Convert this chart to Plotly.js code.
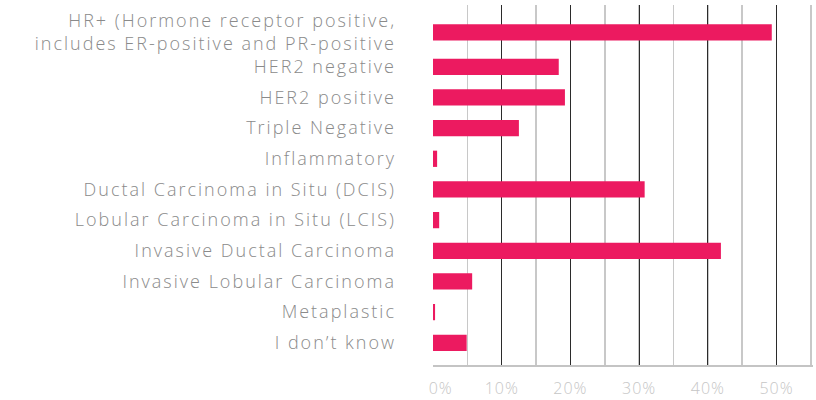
<!DOCTYPE html>
<html>
<head>
<meta charset="utf-8">
<script src="https://cdn.plot.ly/plotly-3.0.1.min.js"></script>
<style>
html,body{margin:0;padding:0;background:#fff;}
#chart{width:816px;height:400px;}
#chart .ytick text{letter-spacing:2px;}
#chart .xtick text{letter-spacing:1px;}
</style>
</head>
<body>
<div id="chart"></div>
<script>
const categories = [
  "HR+ (Hormone receptor positive,<br>includes ER-positive and PR-positive",
  "HER2 negative",
  "HER2 positive",
  "Triple Negative",
  "Inflammatory",
  "Ductal Carcinoma in Situ (DCIS)",
  "Lobular Carcinoma in Situ (LCIS)",
  "Invasive Ductal Carcinoma",
  "Invasive Lobular Carcinoma",
  "Metaplastic",
  "I don\u2019t know"
];
const values = [49.3, 18.3, 19.2, 12.5, 0.6, 30.8, 0.9, 41.9, 5.7, 0.3, 4.9];
const tickValues = [0, 10, 20, 30, 40, 50];
const tickLabels = ["\u00a0\u00a0\u00a00%", "10%", "20%", "30%", "40%", "50%"];

// Row layout: a row whose label wraps onto two lines gets a little extra room
const rowPos = [];
(function () {
  let p = 0;
  categories.forEach(function (c, i) {
    const lines = c.split('<br>').length;
    if (i > 0) {
      const prevLines = categories[i - 1].split('<br>').length;
      p += 1 + 0.125 * (lines - 1) + 0.125 * (prevLines - 1);
    }
    rowPos.push(p);
  });
})();
const last = rowPos[rowPos.length - 1];

const trace = {
  type: 'bar',
  orientation: 'h',
  y: rowPos,
  x: values,
  width: 0.53,
  marker: {color: '#ec1a60'},
  hovertext: categories,
  hoverinfo: 'x+text'
};

const layout = {
  width: 816, height: 400,
  margin: {l: 433, r: 3, t: 5, b: 35},
  paper_bgcolor: '#fff', plot_bgcolor: '#fff',
  showlegend: false,
  font: {family: '"Open Sans", sans-serif'},
  xaxis: {
    range: [0, 55.3],
    tickvals: tickValues,
    ticktext: tickLabels,
    showgrid: true,
    gridcolor: '#2b2b2b',
    gridwidth: 1,
    minor: {dtick: 5, showgrid: true, gridcolor: '#c8c8c8', gridwidth: 1.5},
    zeroline: false,
    showline: true,
    linecolor: '#c4c4c4',
    linewidth: 1.5,
    ticks: '',
    ticklabelstandoff: 8,
    tickfont: {size: 16, color: '#c6c6c6', family: '"Open Sans", sans-serif', weight: 300},
    fixedrange: true
  },
  yaxis: {
    range: [last + 0.725, -0.89],
    tickvals: rowPos,
    ticktext: categories,
    showgrid: false,
    zeroline: false,
    showline: false,
    ticks: '',
    ticklabelstandoff: 36,
    tickfont: {size: 18, color: '#8a8a8a', family: '"Open Sans", sans-serif', weight: 300},
    fixedrange: true
  }
};

Plotly.newPlot('chart', [trace], layout, {displayModeBar: false, staticPlot: true});
</script>
</body>
</html>
